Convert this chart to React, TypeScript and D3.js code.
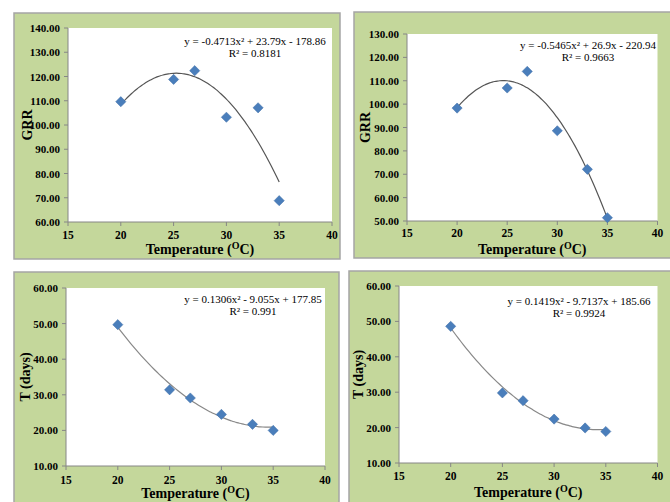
import React from 'react';
import * as d3 from 'd3';

// data
const temps = [20, 25, 27, 30, 33, 35];
const grrA = [109.6, 118.8, 122.4, 103.2, 107.1, 68.8];
const grrB = [98.3, 106.9, 114.0, 88.6, 72.1, 51.4];
const daysA = [49.7, 31.4, 29.1, 24.5, 21.7, 20.0];
const daysB = [48.6, 29.8, 27.6, 22.4, 19.9, 18.9];

// printed trendline coefficients [a, b, c] for y = ax^2 + bx + c
const fitGrrA = [-0.4713, 23.79, -178.86];
const fitGrrB = [-0.5465, 26.9, -220.94];
const fitDaysA = [0.1306, -9.055, 177.85];
const fitDaysB = [0.1419, -9.7137, 185.66];

const eqGrrA = 'y = -0.4713x² + 23.79x - 178.86';
const eqGrrB = 'y = -0.5465x² + 26.9x - 220.94';
const eqDaysA = 'y = 0.1306x² - 9.055x + 177.85';
const eqDaysB = 'y = 0.1419x² - 9.7137x + 185.66';
const r2Labels = ['R² = 0.8181', 'R² = 0.9663', 'R² = 0.991', 'R² = 0.9924'];

const xDomain = [15, 40];
const xTicks = [15, 20, 25, 30, 35, 40];

const config = {
    bg: '#c4d79b',
    border: '#a5a5a5',
    axis: '#868686',
    marker: '#4a7ebb',
    font: '"Liberation Serif", "Times New Roman", serif'
};

type PanelProps = {
    outer: number[]; // x0,y0,x1,y1
    plot: number[];
    ys: number[];
    yDomain: number[];
    fit: number[];
    eq: string;
    r2: string;
    eqPos: number[];
    yTitle: string;
    curveColor: string;
    tickY: number;
    titleY: number;
    yTitleX: number;
};

const Panel = (p: PanelProps) => {
    const [px0, py0, px1, py1] = p.plot;
    const x = d3.scaleLinear().domain(xDomain).range([px0, px1]);
    const y = d3.scaleLinear().domain(p.yDomain).range([py1, py0]);
    const yTicks = d3.range(p.yDomain[0], p.yDomain[1] + 0.001, 10);

    const f = (t: number) => p.fit[0] * t * t + p.fit[1] * t + p.fit[2];
    const curvePts = d3.range(temps[0], temps[temps.length - 1] + 0.001, 0.25).map(t => [t, f(t)]);
    const line = d3.line<number[]>().x(d => x(d[0])).y(d => y(d[1])).curve(d3.curveMonotoneX);
    const diamond = d3.symbol().type(d3.symbolSquare).size(52)();

    const [ox0, oy0, ox1, oy1] = p.outer;
    const cx = (px0 + px1) / 2;
    const cy = (py0 + py1) / 2;

    return (
        <g fontFamily={config.font}>
            <rect x={ox0} y={oy0} width={ox1 - ox0} height={oy1 - oy0}
                fill={config.bg} stroke={config.border} strokeWidth={1.5} />
            <rect x={px0} y={py0} width={px1 - px0} height={py1 - py0} fill="#fff" />
            {/* axes */}
            <line x1={px0} x2={px0} y1={py0} y2={py1} stroke={config.axis} />
            <line x1={px0} x2={px1} y1={py1} y2={py1} stroke={config.axis} />
            {yTicks.map(t => (
                <g key={'y' + t}>
                    <line x1={px0 - 4} x2={px0} y1={y(t)} y2={y(t)} stroke={config.axis} />
                    <text x={px0 - 8} y={y(t) + 4} textAnchor="end" fontSize={11}
                        fontWeight="bold">{t.toFixed(2)}</text>
                </g>
            ))}
            {xTicks.map(t => (
                <g key={'x' + t}>
                    <line x1={x(t)} x2={x(t)} y1={py1} y2={py1 + 4} stroke={config.axis} />
                    <text x={x(t)} y={p.tickY} textAnchor="middle" fontSize={11.5}
                        fontWeight="bold">{t}</text>
                </g>
            ))}
            {/* trendline */}
            <path d={line(curvePts) || ''} fill="none" stroke={p.curveColor} strokeWidth={1.2} />
            {/* points */}
            {temps.map((t, i) => (
                <path key={'p' + i} d={diamond || ''}
                    transform={`translate(${x(t)},${y(p.ys[i])}) rotate(45)`}
                    fill={config.marker} stroke="#3f6fa8" strokeWidth={0.5} />
            ))}
            {/* equation */}
            <text x={p.eqPos[0]} y={p.eqPos[1]} textAnchor="middle" fontSize={11}>{p.eq}</text>
            <text x={p.eqPos[0]} y={p.eqPos[1] + 12} textAnchor="middle" fontSize={11}>{p.r2}</text>
            {/* titles */}
            <text x={cx} y={p.titleY} textAnchor="middle" fontSize={14} fontWeight="bold">
                Temperature (<tspan fontSize={10} dy={-5}>O</tspan><tspan dy={5}>C)</tspan>
            </text>
            <text transform={`translate(${p.yTitleX},${cy}) rotate(-90)`} textAnchor="middle"
                fontSize={14} fontWeight="bold" dy={5}>{p.yTitle}</text>
        </g>
    );
};

export default function App() {
    return (
        <svg width={670} height={502} style={{position: 'absolute', left: 0, top: 0, background: '#fff'}}>
            <Panel outer={[14, 13, 340, 259]} plot={[68, 28, 332, 222]} ys={grrA} yDomain={[60, 140]}
                fit={fitGrrA} eq={eqGrrA} r2={r2Labels[0]} eqPos={[255, 45]} yTitle="GRR"
                curveColor="#555" tickY={239} titleY={254} yTitleX={27} />
            <Panel outer={[354, 12, 672, 258]} plot={[407, 34, 657.5, 221]} ys={grrB} yDomain={[50, 130]}
                fit={fitGrrB} eq={eqGrrB} r2={r2Labels[1]} eqPos={[588, 49]} yTitle="GRR"
                curveColor="#555" tickY={237} titleY={254} yTitleX={365} />
            <Panel outer={[14, 272, 339, 506]} plot={[66, 288, 325, 466]} ys={daysA} yDomain={[10, 60]}
                fit={fitDaysA} eq={eqDaysA} r2={r2Labels[2]} eqPos={[253, 303]} yTitle="T (days)"
                curveColor="#888" tickY={484} titleY={498} yTitleX={25} />
            <Panel outer={[349, 271, 672, 506]} plot={[399, 286, 657.5, 463]} ys={daysB} yDomain={[10, 60]}
                fit={fitDaysB} eq={eqDaysB} r2={r2Labels[3]} eqPos={[579, 305]} yTitle="T (days)"
                curveColor="#888" tickY={480} titleY={497} yTitleX={358} />
        </svg>
    );
}
